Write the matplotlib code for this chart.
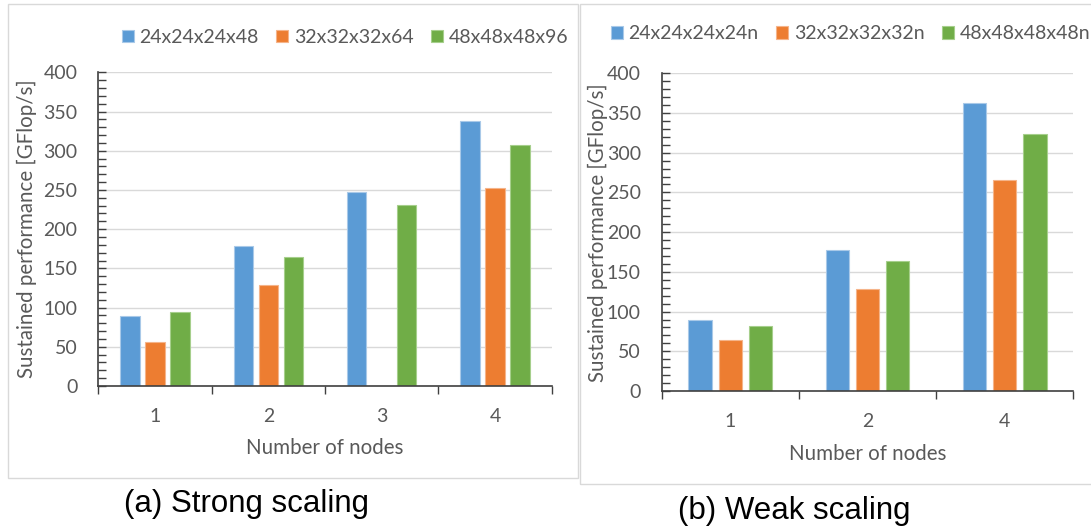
import numpy as np
import matplotlib
matplotlib.use('Agg')
import matplotlib.pyplot as plt
from matplotlib.patches import Patch, Rectangle

# Daten: starke Skalierung (a)
strong_nodes = ['1', '2', '3', '4']
strong_labels = ['24x24x24x48', '32x32x32x64', '48x48x48x96']
strong_24 = [89, 178, 248, 338]
strong_32 = [56, 129, np.nan, 252]
strong_48 = [94, 164, 231, 307]

# Daten: schwache Skalierung (b)
weak_nodes = ['1', '2', '4']
weak_labels = ['24x24x24x24n', '32x32x32x32n', '48x48x48x48n']
weak_24 = [89, 178, 362]
weak_32 = [64, 129, 266]
weak_48 = [82, 164, 324]

y_ticks = [0, 50, 100, 150, 200, 250, 300, 350, 400]

colors = ['#5b9bd5', '#ed7d31', '#70ad47']
edges = ['#a9c9e8', '#f5b48a', '#a6cf8c']
text_gray = '#595959'
grid_gray = '#d9d9d9'
axis_col = '#404040'
FONT = 'Lato'
FS = 14
FS_TITLE = 14.8

W, H = 1091, 527


def px(x, y):
    # Pixelkoordinaten (oben links) -> Figure-Koordinaten
    return x / W, 1 - y / H


def draw_panel(fig, rect, nodes, series, labels, leg_xy, ylab_xy, xlab_xy):
    ax = fig.add_axes(rect)
    n = len(nodes)
    x = np.arange(n)
    offsets = [-0.22, 0, 0.22]
    for vals, off, c, e in zip(series, offsets, colors, edges):
        ax.bar(x + off, vals, width=0.172, color=c, edgecolor=e, linewidth=0.8, zorder=3)

    ax.set_xlim(-0.5, n - 0.5)
    ax.set_ylim(0, 400)
    ax.set_yticks(y_ticks)
    ax.set_yticks(np.arange(0, 401, 10), minor=True)
    ax.set_yticklabels([str(v) for v in y_ticks], fontsize=FS, color=text_gray, family=FONT)
    ax.tick_params(axis='y', which='both', direction='in', length=6, width=1,
                   color=axis_col, pad=15)
    ax.grid(axis='y', which='major', color=grid_gray, linewidth=1, zorder=0)

    # Striche an den Kategoriegrenzen, Beschriftung in der Mitte
    ax.set_xticks(np.arange(n + 1) - 0.5)
    ax.set_xticklabels([''] * (n + 1))
    ax.set_xticks(x, minor=True)
    ax.set_xticklabels(nodes, minor=True, fontsize=FS, color=text_gray, family=FONT)
    ax.tick_params(axis='x', which='major', direction='out', length=6, width=1, color=axis_col)
    ax.tick_params(axis='x', which='minor', length=0, pad=16)

    for s in ['top', 'right']:
        ax.spines[s].set_visible(False)
    for s in ['left', 'bottom']:
        ax.spines[s].set_color(axis_col)
        ax.spines[s].set_linewidth(1.2)
        ax.spines[s].set_zorder(4)

    fig.text(*px(*ylab_xy), 'Sustained performance [GFlop/s]', rotation=90,
             ha='center', va='center', fontsize=FS_TITLE, color=text_gray, family=FONT)
    fig.text(*px(*xlab_xy), 'Number of nodes', ha='center', va='center',
             fontsize=FS_TITLE, color=text_gray, family=FONT)

    handles = [Patch(facecolor=c, edgecolor=e, linewidth=0.8) for c, e in zip(colors, edges)]
    fig.legend(handles, labels, loc='center left', bbox_to_anchor=px(*leg_xy), ncol=3,
               frameon=False, prop={'family': FONT, 'size': FS}, labelcolor=text_gray,
               handlelength=0.62, handleheight=0.62, handletextpad=0.3,
               columnspacing=0.9, borderpad=0, borderaxespad=0)
    return ax


fig = plt.figure(figsize=(W / 100, H / 100), dpi=100)

# Rahmen um die beiden Diagramme
x0, y0 = px(8, 478)
fig.add_artist(Rectangle((x0, y0), 570 / W, (478 - 3.5) / H, transform=fig.transFigure,
                         fill=False, edgecolor=grid_gray, linewidth=1))
x0, y0 = px(579.5, 484)
fig.add_artist(Rectangle((x0, y0), 520 / W, (484 - 4) / H, transform=fig.transFigure,
                         fill=False, edgecolor=grid_gray, linewidth=1))

l, t = px(98.3, 72.3)
r, b = px(551.7, 386)
draw_panel(fig, [l, b, r - l, t - b], strong_nodes, [strong_24, strong_32, strong_48],
           strong_labels, (121.5, 37.3), (26.7, 229), (325, 448))

l, t = px(661.7, 73.3)
r, b = px(1073.3, 391)
draw_panel(fig, [l, b, r - l, t - b], weak_nodes, [weak_24, weak_32, weak_48],
           weak_labels, (610.5, 34), (598.3, 232.5), (867.5, 453.7))

fig.text(*px(246, 504), '(a) Strong scaling', ha='center', va='center',
         fontsize=22.5, family='Liberation Sans', color='black')
fig.text(*px(794.4, 510.5), '(b) Weak scaling', ha='center', va='center',
         fontsize=22.5, family='Liberation Sans', color='black')

fig.savefig('out.png', dpi=100)
